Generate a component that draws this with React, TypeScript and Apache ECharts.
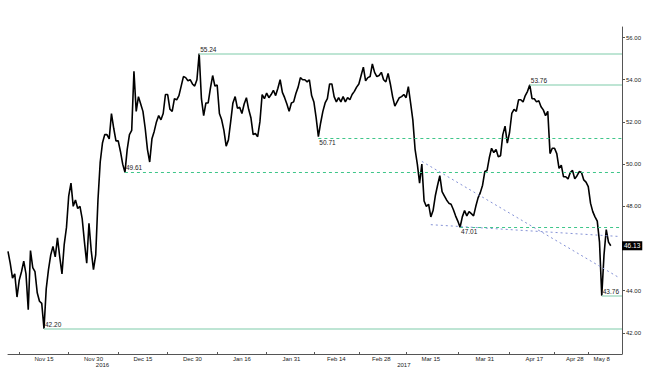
import React, { useEffect, useRef } from "react";
import * as echarts from "echarts";

// ---- data ----
const FIRST_DAY = [2016, 10, 3]; // 2016-11-03 (UTC, month 0-based)
const DAY_COUNT = 137; // weekdays on the axis, two sessions per day

const PRICES = [
  45.86, 45.3, 44.6, 44.8, 43.7, 44.5, 44.9, 45.4, 44.8, 43.1,
  45.9, 45.1, 44.9, 43.9, 43.5, 43.4, 42.2, 44.1, 45.0, 45.7,
  46.1, 45.6, 46.5, 45.6, 44.8, 46.2, 47.0, 48.5, 49.1, 48.0,
  48.3, 47.9, 48.0, 47.4, 46.3, 45.3, 47.2, 45.9, 45.0, 45.7,
  48.3, 50.1, 51.0, 51.4, 51.4, 51.2, 52.4, 51.7, 51.1, 51.1,
  50.6, 50.0, 49.61, 50.7, 51.4, 51.6, 54.4, 52.5, 53.2, 52.85,
  52.5, 51.7, 50.7, 50.1, 51.2, 51.55, 52.0, 52.3, 52.1, 52.4,
  53.3, 53.3, 52.6, 52.5, 53.1, 53.05, 53.25, 53.7, 54.15, 54.1,
  53.95, 54.0, 53.8, 53.7, 54.0, 55.24, 53.1, 52.3, 52.9, 52.9,
  53.6, 54.2, 53.7, 53.75, 52.4, 52.1, 51.6, 50.85, 51.15, 52.0,
  52.9, 53.2, 52.65, 52.7, 52.4, 52.85, 53.15, 52.6, 52.2, 51.4,
  51.45, 51.3, 52.0, 53.3, 53.1, 53.37, 53.15, 53.3, 53.5, 53.25,
  53.6, 54.0, 53.4, 53.15, 52.85, 52.5, 52.9, 52.95, 53.35, 53.65,
  54.1, 54.0, 54.0, 53.9, 54.0, 53.25, 52.95, 52.2, 51.3, 51.95,
  52.5, 52.9, 53.1, 53.8, 53.8, 53.2, 52.95, 53.15, 52.95, 53.2,
  52.95, 53.15, 53.05, 53.3, 53.45, 53.65, 53.8, 54.2, 54.6, 53.95,
  54.1, 54.15, 54.75, 54.35, 54.15, 54.2, 54.35, 54.0, 53.9, 54.3,
  53.8, 53.2, 52.75, 52.95, 53.15, 53.2, 53.3, 53.15, 53.67, 52.9,
  52.1, 50.7, 50.0, 49.1, 50.0, 48.25, 48.0, 48.1, 47.5, 47.8,
  48.5, 49.0, 49.45, 48.7, 48.5, 48.3, 48.15, 48.1, 47.85, 47.55,
  47.3, 47.01, 47.5, 47.8, 47.55, 47.75, 47.65, 47.55, 48.0, 48.4,
  48.65, 49.0, 49.65, 49.7, 50.3, 50.75, 50.55, 50.7, 50.35, 50.4,
  51.4, 51.8, 51.0, 51.5, 52.4, 52.6, 52.5, 53.05, 53.05, 52.95,
  53.25, 53.45, 53.76, 53.1, 53.1, 52.95, 53.0, 52.72, 52.57, 52.3,
  52.5, 50.5, 50.75, 50.75, 50.5, 49.8, 49.95, 49.4, 49.4, 49.3,
  49.6, 49.7, 49.3, 49.45, 49.65, 49.6, 49.25, 49.15, 48.93, 48.15,
  47.75, 47.5, 47.3, 46.3, 43.76, 45.7, 46.9, 46.3, 46.13,
];

const TICK_DATES = [
  "2016-11-15", "2016-11-30", "2016-12-15", "2016-12-30", "2017-01-16",
  "2017-01-31", "2017-02-14", "2017-02-28", "2017-03-15", "2017-03-31",
  "2017-04-17", "2017-04-28", "2017-05-08",
];
const Y_TICKS = [42, 44, 46, 48, 50, 52, 54, 56];
// 46.00 is covered by the last-price tag in the reference
const Y_LABELS = [42, 44, 48, 50, 52, 54, 56];

const LEVELS = [55.24, 53.76, 51.24, 49.61, 47.01, 42.2, 43.76];
const LEVEL_TEXTS = ["55.24", "53.76", "50.71", "49.61", "47.01", "42.20", "43.76"];
const LEVEL_FROM = [
  "2017-01-02 PM", "2017-04-14 AM", "2017-02-08 AM", "2016-12-09 AM",
  "2017-03-23 PM", "2016-11-15 AM", "2017-05-08 AM",
];
const LEVEL_KIND = ["major", "major", "minor", "minor", "minor", "major", "major"];
const LEVEL_SIDE = ["top", "top", "bottom", "top", "bottom", "top", "top"];

const TREND_FROM = ["2017-03-13 AM", "2017-03-15 AM"];
const TREND_FROM_VALUES = [50.13, 47.13];
const TREND_TO = ["2017-05-12 AM", "2017-05-12 AM"];
const TREND_TO_VALUES = [44.6, 46.57];

const LAST_PRICE = 46.13;

// ---- helpers ----
const MONTHS = ["Jan", "Feb", "Mar", "Apr", "May", "Jun", "Jul", "Aug", "Sep", "Oct", "Nov", "Dec"];
const FONT = "'Liberation Sans', Arial, sans-serif";

function buildSessions(): string[] {
  const out: string[] = [];
  let t = Date.UTC(FIRST_DAY[0], FIRST_DAY[1], FIRST_DAY[2]);
  let days = 0;
  while (days < DAY_COUNT) {
    const d = new Date(t);
    const wd = d.getUTCDay();
    if (wd !== 0 && wd !== 6) {
      const s = d.toISOString().slice(0, 10);
      out.push(s + " AM", s + " PM");
      days++;
    }
    t += 86400000;
  }
  return out;
}

function buildOption() {
  const sessions = buildSessions();
  const lastSession = sessions[sessions.length - 1];
  const labelNames = TICK_DATES.map((d) => d + " AM");
  const labelSet = new Set(labelNames);
  const labelIdx = labelNames.map((n) => sessions.indexOf(n));
  const tickSet = new Set<number>();
  tickSet.add(Math.round(labelIdx[0] - (labelIdx[1] - labelIdx[0]) / 2));
  for (let k = 0; k < labelIdx.length - 1; k++) {
    tickSet.add(Math.round((labelIdx[k] + labelIdx[k + 1]) / 2));
  }
  // year labels centred in each year's span of data
  const yearMid = new Set<number>();
  const lastData = PRICES.length - 1;
  const years = Array.from(new Set(sessions.slice(0, lastData + 1).map((s) => s.slice(0, 4))));
  years.forEach((y) => {
    let a = -1, b = -1;
    for (let i = 0; i <= lastData; i++) {
      if (sessions[i].startsWith(y)) {
        if (a < 0) a = i;
        b = i;
      }
    }
    yearMid.add(Math.round((a + b) / 2));
  });

  const fmtDate = (v: string) => {
    const m = parseInt(v.slice(5, 7), 10) - 1;
    const d = parseInt(v.slice(8, 10), 10);
    return MONTHS[m] + " " + d;
  };

  const levelLines = LEVELS.map((lv, k) => {
    const major = LEVEL_KIND[k] === "major";
    return [
      {
        coord: [LEVEL_FROM[k], lv],
        lineStyle: major
          ? { color: "#a9dcc6", width: 1.5, type: "solid" }
          : { color: "#3fc68a", width: 1, type: [3, 3] },
        label: {
          show: true,
          formatter: LEVEL_TEXTS[k],
          position: LEVEL_SIDE[k] === "top" ? "insideStartTop" : "insideStartBottom",
          distance: [1, 1],
          fontSize: 6.5,
          color: "#222",
          fontFamily: FONT,
        },
      },
      { coord: [lastSession, lv] },
    ];
  });
  const trendLines = TREND_FROM.map((f, k) => [
    {
      coord: [f, TREND_FROM_VALUES[k]],
      lineStyle: { color: "#8592d6", width: 1, type: [2, 3] },
      label: { show: false },
    },
    { coord: [TREND_TO[k], TREND_TO_VALUES[k]] },
  ]);

  return {
    animation: false,
    backgroundColor: "#ffffff",
    textStyle: { fontFamily: FONT },
    grid: { left: 8, right: 33, top: 27, bottom: 22 },
    xAxis: [
      {
        type: "category",
        data: sessions,
        boundaryGap: false,
        position: "bottom",
        axisLine: { onZero: false, lineStyle: { color: "#555", width: 1 } },
        axisTick: {
          show: true,
          inside: true,
          length: 2,
          interval: (i: number) => tickSet.has(i),
          lineStyle: { color: "#555" },
        },
        axisLabel: {
          interval: (_i: number, v: string) => labelSet.has(v),
          formatter: fmtDate,
          fontSize: 6,
          color: "#222",
          margin: 2,
          fontFamily: FONT,
        },
        splitLine: { show: false },
      },
      {
        type: "category",
        data: sessions,
        boundaryGap: false,
        position: "bottom",
        axisLine: { show: false, onZero: false },
        axisTick: { show: false },
        axisLabel: {
          interval: (i: number) => yearMid.has(i),
          formatter: (v: string) => v.slice(0, 4),
          fontSize: 6,
          color: "#222",
          margin: 8,
          fontFamily: FONT,
        },
        splitLine: { show: false },
      },
    ],
    yAxis: [
      {
        type: "value",
        position: "right",
        min: 41,
        max: 56.5,
        axisLine: { show: true, lineStyle: { color: "#555" } },
        axisTick: { show: true, length: 3, customValues: Y_TICKS, lineStyle: { color: "#555" } },
        axisLabel: {
          customValues: Y_LABELS,
          formatter: (v: number) => v.toFixed(2),
          fontSize: 6,
          color: "#222",
          margin: 4,
          fontFamily: FONT,
        },
        splitLine: { show: false },
      },
      {
        type: "value",
        position: "right",
        min: 41,
        max: 56.5,
        axisLine: { show: false },
        axisTick: { show: false },
        splitLine: { show: false },
        axisLabel: {
          customValues: [LAST_PRICE],
          formatter: (v: number) => v.toFixed(2),
          fontSize: 6.5,
          color: "#fff",
          backgroundColor: "#000",
          padding: [1, 2, 1, 2],
          margin: 0,
          fontFamily: FONT,
        },
      },
    ],
    series: [
      {
        type: "line",
        data: PRICES,
        xAxisIndex: 0,
        yAxisIndex: 0,
        symbol: "none",
        showSymbol: false,
        lineStyle: { color: "#000", width: 1.6 },
        markLine: {
          silent: true,
          symbol: ["none", "none"],
          animation: false,
          data: [...levelLines, ...trendLines],
        },
      },
    ],
  };
}

export default function App() {
  const ref = useRef<HTMLDivElement>(null);
  useEffect(() => {
    if (!ref.current) return;
    const chart = echarts.init(ref.current, undefined, { renderer: "svg" });
    chart.setOption(buildOption() as any);
    return () => chart.dispose();
  }, []);
  return (
    <div
      ref={ref}
      style={{ position: "fixed", left: 0, top: 0, width: 655, height: 376, background: "#fff" }}
    />
  );
}
